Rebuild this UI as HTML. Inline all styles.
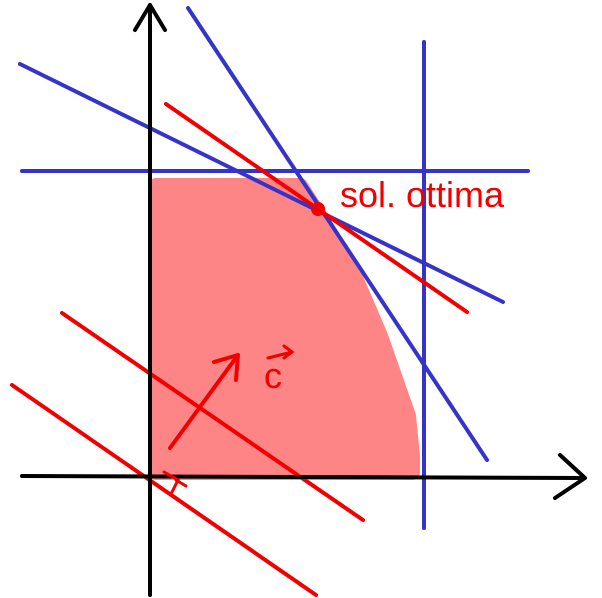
<!DOCTYPE html>
<html><head><meta charset="utf-8"><style>
html,body{margin:0;padding:0;background:#fff;}
svg{display:block;}
text{font-family:"Liberation Sans",sans-serif;}
</style></head><body>
<svg id="chart" width="602" height="598" viewBox="0 0 602 598" xmlns="http://www.w3.org/2000/svg">
  <g id="region"></g>
  <g id="lines"></g>
  <g id="axes"></g>
  <g id="annot"></g>
</svg>
<script>
// data coordinates: origin at axes intersection, y up
const constraintNames = ['constraint-horizontal','constraint-vertical','constraint-steep','constraint-shallow'];
const constraintX1 = [-128, 274, 38, -130];
const constraintY1 = [305, 434, 468, 412];
const constraintX2 = [378, 274, 337, 353];
const constraintY2 = [305, -52, 16, 174];
const levelNames = ['level-line-optimal','level-line-mid','level-line-low'];
const levelX1 = [16, -88, -138];
const levelY1 = [372, 163, 91];
const levelX2 = [317, 213, 166];
const levelY2 = [164, -44, -119];
const regionX = [6, 150, 168, 200, 230, 258, 262, 262, 6];
const regionY = [290, 290, 262, 210, 140, 60, 20, 4, 4];
const optimumX = [168];
const optimumY = [267];

const ox = 150, oy = 476;
const sx = v => ox + v;
const sy = v => oy - v;
const NS = 'http://www.w3.org/2000/svg';
function mk(tag, attrs, parent){
  const e = document.createElementNS(NS, tag);
  for (const k in attrs) e.setAttribute(k, attrs[k]);
  parent.appendChild(e);
  return e;
}
const gR = document.getElementById('region');
const gL = document.getElementById('lines');
const gA = document.getElementById('axes');
const gN = document.getElementById('annot');

let pts = regionX.map((x,i)=>sx(x)+','+sy(regionY[i])).join(' ');
const reg = mk('polygon', {points: pts, fill:'#fe8585', stroke:'#fe8585', 'stroke-width':16, 'stroke-linejoin':'round'}, gR);



constraintNames.forEach((n,i)=>{
  const l = mk('line', {x1:sx(constraintX1[i]), y1:sy(constraintY1[i]), x2:sx(constraintX2[i]), y2:sy(constraintY2[i]), stroke:'#3434c8', 'stroke-width':4, 'stroke-linecap':'round'}, gL);
  
  
});
levelNames.forEach((n,i)=>{
  const l = mk('line', {x1:sx(levelX1[i]), y1:sy(levelY1[i]), x2:sx(levelX2[i]), y2:sy(levelY2[i]), stroke:'#f20000', 'stroke-width':4, 'stroke-linecap':'round'}, gL);
  
  
});

const ax = mk('path', {d:'M150 595 L150 5 M135 30 L150 5 L165 30', fill:'none', stroke:'#000', 'stroke-width':4, 'stroke-linecap':'round','stroke-linejoin':'round'}, gA);


const xa = mk('path', {d:'M22 476 L584 478 M560 455 L585 478 L555 498', fill:'none', stroke:'#000', 'stroke-width':4, 'stroke-linecap':'round','stroke-linejoin':'round'}, gA);



const dot = mk('circle', {cx:sx(optimumX[0]), cy:sy(optimumY[0]), r:7, fill:'#f20000'}, gN);


const lbl = mk('text', {x:340, y:207, fill:'#f20000', 'font-size':36}, gN);
lbl.textContent = 'sol. ottima';



const vec = mk('path', {d:'M170 448 L238 355 M214 362 L238 355 L236 380', fill:'none', stroke:'#f20000', 'stroke-width':4, 'stroke-linecap':'round','stroke-linejoin':'round'}, gN);


const ra = mk('path', {d:'M164 472 L178 480 L172 492 M176 480 L186 486', fill:'none', stroke:'#f20000', 'stroke-width':3, 'stroke-linecap':'round'}, gN);


const cl = mk('text', {x:264, y:388, fill:'#f20000', 'font-size':36}, gN);
cl.textContent = 'c';


const ca = mk('path', {d:'M268 358 L292 352 M284 346 L292 352 L284 358', fill:'none', stroke:'#f20000', 'stroke-width':3, 'stroke-linecap':'round'}, gN);


</script>
</body></html>
